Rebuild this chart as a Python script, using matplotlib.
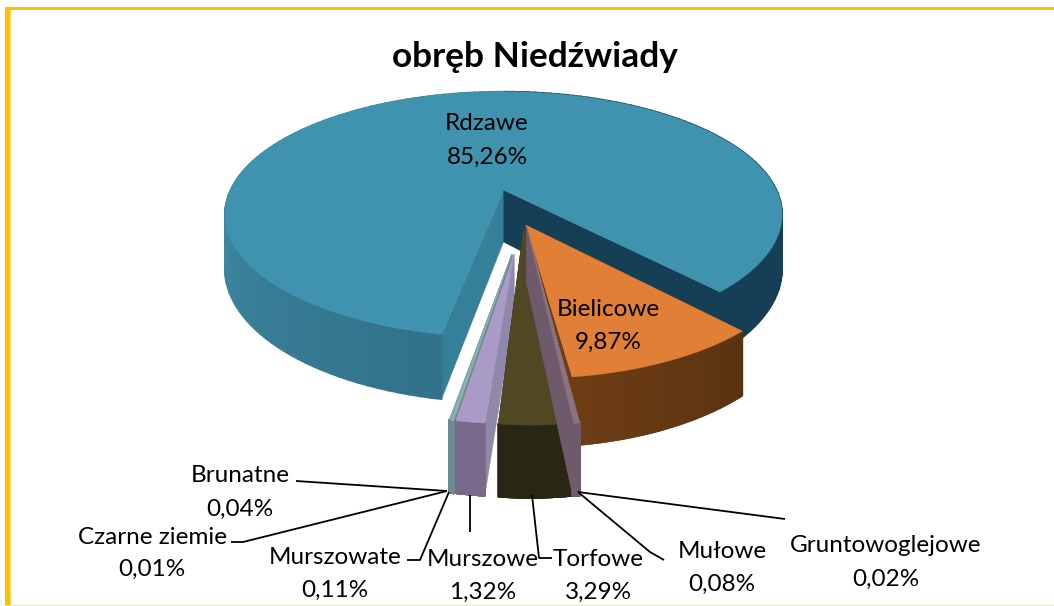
import numpy as np
import matplotlib
matplotlib.use("Agg")
import matplotlib.pyplot as plt
from matplotlib.colors import to_rgb
from matplotlib.patches import Polygon, Rectangle

plt.rcParams["font.family"] = ["Lato", "DejaVu Sans"]

# Data, clockwise from the lower left edge of the big slice
categories = ["Rdzawe", "Bielicowe", "Gruntowoglejowe", "Mułowe", "Torfowe",
              "Murszowe", "Murszowate", "Czarne ziemie", "Brunatne"]
values = [85.26, 9.87, 0.02, 0.08, 3.29, 1.32, 0.11, 0.01, 0.04]
value_labels = ["85,26%", "9,87%", "0,02%", "0,08%", "3,29%",
                "1,32%", "0,11%", "0,01%", "0,04%"]
title = "obręb Niedźwiady"

# Projection of the pie disc to pixels (simple perspective)
CX, CY = 503.5, 190.0
RX, RY = 273.0, 118.0
PERSP = 0.2
DEPTH = 52.0
START_ANGLE = 100.5

# Per slice drawing: apex du, dv, radius, v stretch, smallest drawn sweep, top, rim start, rim end
STYLE = {
    "Rdzawe": (0, 0, 1.0, 1.0, 0, "#3f93ae", "#357f98", "#153f55"),
    "Bielicowe": (0.077, 0.28, 0.93, 1.0, 0, "#e07f35", "#5a3312", "#6e3d14"),
    "Gruntowoglejowe": (0.079, 0.29, 0.93, 1.22, 1.0, "#8a7280", "#6f5a6b", "#6f5a6b"),
    "Mułowe": (0.079, 0.29, 0.93, 1.22, 1.0, "#8a7280", "#6f5a6b", "#6f5a6b"),
    "Torfowe": (0.07, 0.29, 0.93, 1.22, 0, "#4f4823", "#2a2614", "#2a2614"),
    "Murszowe": (0.035, 0.49, 0.93, 1.0, 0, "#a99bc6", "#78688a", "#78688a"),
    "Murszowate": (0.028, 0.49, 0.93, 1.0, 0.5, "#8fb0b0", "#6b8a92", "#6b8a92"),
    "Czarne ziemie": (0.028, 0.49, 0.93, 1.0, 0.4, "#8fb0b0", "#6b8a92", "#6b8a92"),
    "Brunatne": (0.028, 0.49, 0.93, 1.0, 0.4, "#8fb0b0", "#6b8a92", "#6b8a92"),
}
DRAW_ORDER = ["Rdzawe", "Bielicowe", "Brunatne", "Czarne ziemie", "Murszowate",
              "Murszowe", "Torfowe", "Mułowe", "Gruntowoglejowe"]

# Big slice rim on the left side, darker towards the cut corner
BLUE_RIM_NEAR = "#31728a"
BLUE_RIM_FAR = "#3d869f"

# Label centres (name line, value line) and leader lines in pixels
LABEL_POS = {
    "Rdzawe": (487, 123, 157),
    "Bielicowe": (608, 310, 342),
    "Gruntowoglejowe": (886, 546, 579),
    "Mułowe": (722, 552, 584),
    "Torfowe": (598, 560, 592),
    "Murszowe": (483, 559, 592),
    "Murszowate": (335, 557, 590),
    "Czarne ziemie": (152, 537, 569),
    "Brunatne": (240, 476, 509),
}
LEADERS = [
    [(296, 481), (447, 491)],
    [(231, 542), (243, 542), (447, 491)],
    [(407, 560), (420, 560), (449, 492)],
    [(470, 495), (470, 532)],
    [(532, 495), (539, 558), (552, 558)],
    [(578, 492), (650, 552), (664, 560)],
    [(578, 492), (785, 519)],
]


def project(u, v, z=0.0):
    s = 1.0 / (1.0 - PERSP * v)
    return CX + RX * u * s, CY + RY * v * s + DEPTH * z * s


def draw_slice(ax, name, a0, sweep):
    du, dv, r, stretch, min_sweep, top, rim0, rim1 = STYLE[name]
    mid = a0 + sweep / 2
    sweep = max(sweep, min_sweep)
    deg = np.linspace(mid - sweep / 2, mid + sweep / 2, 160)
    th = np.radians(deg)
    us = du + r * np.cos(th)
    vs = dv + r * stretch * np.sin(th)

    # cut faces first, the top covers what should not show
    first_col, last_col = rim0, rim1
    if name == "Murszowe":
        first_col = last_col = "#9088a8"
    for i, col in ((0, first_col), (-1, last_col)):
        quad = [project(du, dv), project(us[i], vs[i]),
                project(us[i], vs[i], 1), project(du, dv, 1)]
        ax.add_patch(Polygon(quad, closed=True, fc=col, ec=col, lw=0.3, zorder=2))

    # outer rim, strips with a colour shift along the arc
    c0, c1 = np.array(to_rgb(rim0)), np.array(to_rgb(rim1))
    near, far = np.array(to_rgb(BLUE_RIM_NEAR)), np.array(to_rgb(BLUE_RIM_FAR))
    for i in range(len(th) - 1):
        if name != "Rdzawe":
            col = c0 + (c1 - c0) * i / (len(th) - 1)
        elif deg[i] < 270:
            col = near + (far - near) * min((deg[i] - deg[0]) / 70.0, 1.0)
        else:
            col = rim1
        quad = [project(us[i], vs[i]), project(us[i + 1], vs[i + 1]),
                project(us[i + 1], vs[i + 1], 1), project(us[i], vs[i], 1)]
        ax.add_patch(Polygon(quad, closed=True, fc=col, ec=col, lw=1.2, zorder=2))

    pts = [project(du, dv)] + [project(u, v) for u, v in zip(us, vs)]
    ax.add_patch(Polygon(pts, closed=True, fc=top, ec=top, lw=0.3, zorder=2))


fig = plt.figure(figsize=(10.54, 6.06), dpi=100)
ax = fig.add_axes([0, 0, 1, 1])
ax.set_xlim(0, 1054)
ax.set_ylim(606, 0)
ax.axis("off")

# Frame
ax.add_patch(Rectangle((5, 7), 1049, 3, fc="#ffc000", ec="none"))
ax.add_patch(Rectangle((5, 7), 5, 599, fc="#ffc000", ec="none"))
ax.add_patch(Rectangle((10, 10), 1, 596, fc="#ffd966", ec="none"))
ax.add_patch(Rectangle((5, 604.5), 1049, 1.5, fc="#f9e5a0", ec="none"))

sweeps = np.array(values) * 3.6
starts = START_ANGLE + np.concatenate([[0], np.cumsum(sweeps)[:-1]])
angle_of = dict(zip(categories, zip(starts, sweeps)))
for name in DRAW_ORDER:
    draw_slice(ax, name, *angle_of[name])

for line in LEADERS:
    xs, ys = zip(*line)
    ax.plot(xs, ys, color="black", lw=1.3, zorder=3, solid_capstyle="butt")

for name, val in zip(categories, value_labels):
    x, y0, y1 = LABEL_POS[name]
    ax.text(x, y0, name, ha="center", va="center", fontsize=17.5, color="black", zorder=4)
    ax.text(x, y1, val, ha="center", va="center", fontsize=17.5, color="black", zorder=4)

ax.text(535, 57, title, ha="center", va="center", fontsize=25.4, fontweight="bold", color="black")

fig.savefig("out.png", dpi=100)
